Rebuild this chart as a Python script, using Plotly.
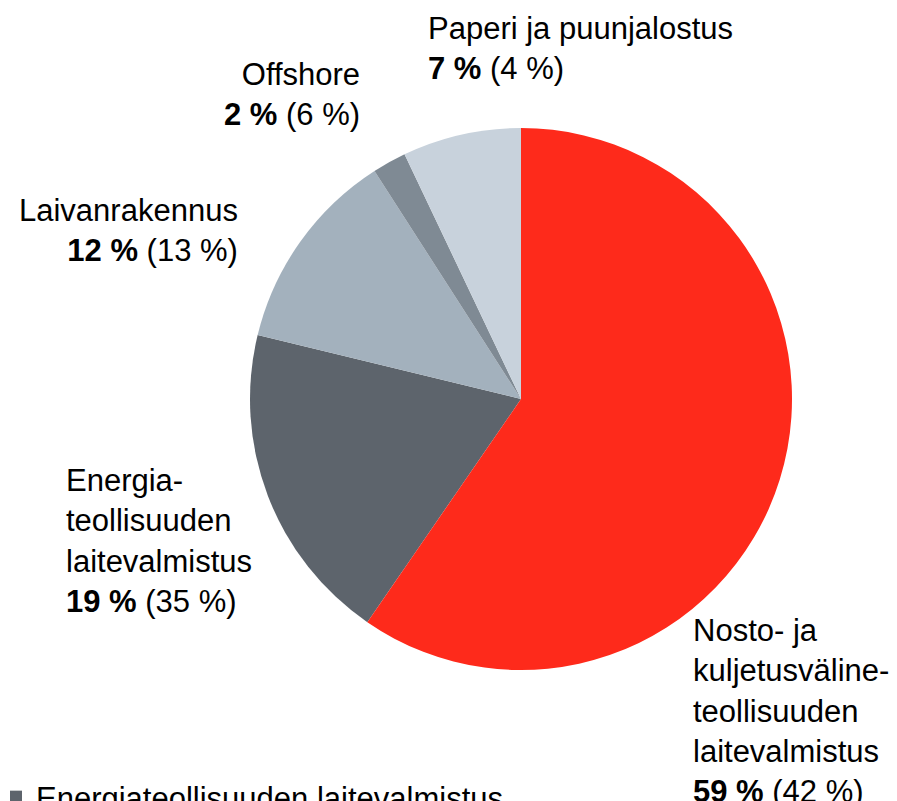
"""Toimialajakauma piirakkana: osuus nyt ja (vertailuvuosi) suluissa."""

import plotly.graph_objects as go

W, H = 897, 801
OFF = 8  # sivun oletusmarginaali (body margin)

# Data (myötäpäivään, alkaen energiateollisuudesta legendan järjestyksen vuoksi)
labels = [
    "Energiateollisuuden laitevalmistus",
    "Laivanrakennus",
    "Offshore",
    "Paperi ja puunjalostus",
    "Nosto- ja kuljetusvälineteollisuuden laitevalmistus",
]
label_lines = [
    "Energia-<br>teollisuuden<br>laitevalmistus",
    "Laivanrakennus",
    "Offshore",
    "Paperi ja puunjalostus",
    "Nosto- ja<br>kuljetusväline-<br>teollisuuden<br>laitevalmistus",
]
shares = [19, 12, 2, 7, 59]
prev_shares = [35, 13, 6, 4, 42]
colors = ["#5d646c", "#a3b1bd", "#7f8a94", "#c8d2dc", "#fe2a1b"]

FONT = "Liberation Sans, Arial, sans-serif"

# punainen sektori alkaa kello 12:sta, joten energia alkaa sen lopusta
start_angle = 360.0 * shares[-1] / sum(shares)


def px_x(x):
    """Kuvan pikseli -> paper-koordinaatti."""
    return (x - OFF) / W


def px_y(y):
    return 1 - (y - OFF) / H


# Pie-keskipiste (521, 399), säde 271 px
cx, cy, r = 521, 399, 271

fig = go.Figure(
    go.Pie(
        labels=labels,
        values=shares,
        sort=False,
        direction="clockwise",
        rotation=start_angle,
        marker=dict(colors=colors, line=dict(width=0)),
        textinfo="none",
        hoverinfo="label+percent",
        domain=dict(
            x=[px_x(cx - r), px_x(cx + r)],
            y=[px_y(cy + r), px_y(cy - r)],
        ),
    )
)

# Tekstien paikat kuvan pikseleinä: (x, y, ankkuri)
label_pos = [
    (64, 541, "left"),
    (240, 230, "right"),
    (362, 94, "right"),
    (426, 48, "left"),
    (691, 711, "left"),
]

for name, s, p, (x, y, anchor) in zip(label_lines, shares, prev_shares, label_pos):
    fig.add_annotation(
        x=px_x(x), y=px_y(y), xref="paper", yref="paper",
        xanchor=anchor, yanchor="middle", align=anchor,
        text=f"{name}<br><b>{s} %</b> ({p} %)",
        showarrow=False,
        font=dict(family=FONT, size=31, color="#000000"),
    )

fig.update_layout(
    width=W, height=H,
    margin=dict(l=0, r=0, t=0, b=0, autoexpand=False),
    paper_bgcolor="white",
    plot_bgcolor="white",
    font=dict(family=FONT, size=31, color="#000000"),
    showlegend=True,
    legend=dict(
        orientation="h",
        x=px_x(-4), xanchor="left",
        y=px_y(770), yanchor="top",
        font=dict(family=FONT, size=31, color="#000000"),
        bgcolor="rgba(0,0,0,0)",
    ),
)

fig.write_html("out.html")
